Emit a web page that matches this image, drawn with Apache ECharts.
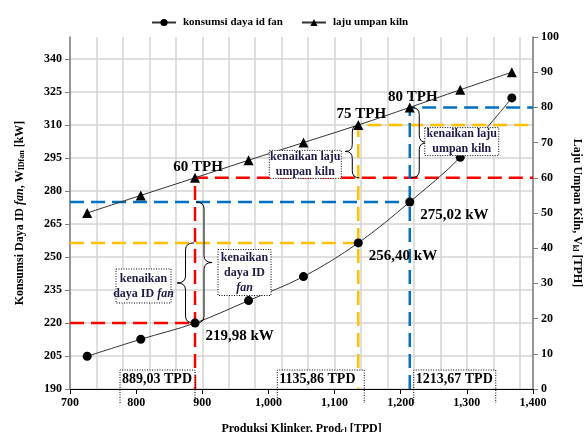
<!DOCTYPE html>
<html>
<head>
<meta charset="utf-8">
<script src="https://cdn.jsdelivr.net/npm/echarts@6/dist/echarts.min.js"></script>
<style>
  html, body { margin: 0; padding: 0; background: #fff; }
  #chart { width: 587px; height: 432px; }
</style>
</head>
<body>
<div id="chart"></div>
<script>
// Clinker production (TPD), ID fan power (kW) and kiln feed rate (TPH)
const clinkerTPD  = [726, 807, 889.03, 970, 1053, 1135.86, 1213.67, 1290, 1368];
const fanPowerKW  = [204.9, 212.6, 219.98, 230.2, 241.1, 256.40, 275.02, 295.3, 322.3];
const kilnFeedTPH = [50, 55, 60, 65, 70, 75, 80, 85, 90];

// Operating points highlighted with guide lines
const markedIdx   = [2, 5, 6];
const guideColors = ['#ff0000', '#ffc000', '#0070c0'];

// Axis ranges
const xRange = [700, 1400];
const kwRange = [190, 350];
const tphRange = [0, 100];

const seriesNames = ['konsumsi daya id fan', 'laju umpan kiln'];

const FONT = "'Liberation Serif', 'Times New Roman', serif";
const dec = v => v.toFixed(2).replace('.', ',');

const chart = echarts.init(document.getElementById('chart'), null, { renderer: 'canvas' });

const baseText = { fontFamily: FONT, fontWeight: 'bold', color: '#000' };
const subRich = {
  n: { fontFamily: FONT, fontWeight: 'bold', fontSize: 12, color: '#000' },
  i: { fontFamily: FONT, fontWeight: 'bold', fontStyle: 'italic', fontSize: 12, color: '#000' },
  s: { fontFamily: FONT, fontWeight: 'bold', fontSize: 8, color: '#000', verticalAlign: 'bottom', padding: [5, 0, 0, 0] }
};

// Guide lines: horizontal on the kW axis, vertical + horizontal on the TPH axis
const guideSeries = [];
markedIdx.forEach((idx, k) => {
  const x = clinkerTPD[idx];
  const style = { color: guideColors[k], width: 2.5, type: [14, 7] };
  guideSeries.push({
    type: 'line', xAxisIndex: 0, yAxisIndex: 0, symbol: 'none', silent: true, z: 1,
    lineStyle: style,
    data: [[xRange[0], fanPowerKW[idx]], [x, fanPowerKW[idx]]]
  });
  guideSeries.push({
    type: 'line', xAxisIndex: 0, yAxisIndex: 1, symbol: 'none', silent: true, z: 1,
    lineStyle: style,
    data: [[x, tphRange[0]], [x, kilnFeedTPH[idx]], [xRange[1], kilnFeedTPH[idx]]]
  });
});

const valueLabel = { fontFamily: FONT, fontWeight: 'bold', fontSize: 15, color: '#000' };

const powerData = clinkerTPD.map((x, i) => {
  const item = { value: [x, fanPowerKW[i]] };
  if (markedIdx.includes(i)) {
    item.label = { show: true, position: 'right', offset: [1, 13], formatter: dec(fanPowerKW[i]) + ' kW', ...valueLabel };
  }
  return item;
});
const feedData = clinkerTPD.map((x, i) => {
  const item = { value: [x, kilnFeedTPH[i]] };
  if (markedIdx.includes(i)) {
    item.label = { show: true, position: 'top', distance: 3, offset: [3, 5], formatter: kilnFeedTPH[i] + ' TPH', ...valueLabel };
  }
  return item;
});

// Split line colours for the kW axis: hide the line at the axis maximum
const kwTickCount = Math.floor((kwRange[1] - kwRange[0]) / 15) + 2;
const kwSplitColors = Array.from({ length: kwTickCount }, (_, i) => i === kwTickCount - 1 ? 'rgba(0,0,0,0)' : '#d4d4d4');

chart.setOption({
  animation: false,
  backgroundColor: '#fff',
  textStyle: { fontFamily: FONT },
  legend: {
    data: seriesNames,
    top: 12, left: 146,
    itemWidth: 24, itemHeight: 9, itemGap: 18,
    textStyle: { ...baseText, fontSize: 11, padding: [0, 0, 0, 2] }
  },
  grid: { left: 70, right: 54, top: 37, bottom: 43, containLabel: false, outerBoundsMode: 'none' },
  xAxis: [
    {
      type: 'value', min: xRange[0], max: xRange[1], interval: 100,
      name: '{n|Produksi Klinker, Prod}{s|cl}{n| [TPD]}',
      nameLocation: 'middle', nameGap: 33,
      nameTextStyle: { rich: subRich },
      axisLine: { show: true, onZero: false, lineStyle: { color: '#000', width: 1 } },
      axisTick: { show: true, length: 5, lineStyle: { color: '#000' } },
      axisLabel: { ...baseText, fontSize: 12, margin: 8, formatter: v => v.toLocaleString('en-US') },
      splitLine: { show: false }
    },
    {
      type: 'value', min: xRange[0], max: xRange[1], interval: 40, position: 'bottom',
      axisLine: { show: false }, axisTick: { show: false }, axisLabel: { show: false },
      splitLine: { show: true, lineStyle: { color: '#d4d4d4', width: 1.5 } }
    }
  ],
  yAxis: [
    {
      type: 'value', min: kwRange[0], max: kwRange[1], interval: 15, position: 'left',
      name: '{n|Konsumsi Daya ID }{i|fan}{n|, W}{s|IDfan}{n| [kW]}',
      nameLocation: 'middle', nameGap: 44, nameRotate: 90,
      nameTextStyle: { rich: subRich },
      axisLine: { show: true, lineStyle: { color: '#7f7f7f', width: 1.5 } },
      axisTick: { show: true, length: 5, lineStyle: { color: '#7f7f7f' } },
      axisLabel: { ...baseText, fontSize: 12, margin: 8, showMaxLabel: false },
      splitLine: { show: true, lineStyle: { color: kwSplitColors, width: 1.5 } }
    },
    {
      type: 'value', min: tphRange[0], max: tphRange[1], interval: 10, position: 'right',
      name: '{n|Laju Umpan Kiln, V}{s|kl}{n| [TPH]}',
      nameLocation: 'middle', nameGap: 38, nameRotate: -90,
      nameTextStyle: { rich: subRich },
      axisLine: { show: true, lineStyle: { color: '#7f7f7f', width: 1.5 } },
      axisTick: { show: true, length: 5, lineStyle: { color: '#7f7f7f' } },
      axisLabel: { ...baseText, fontSize: 12, margin: 8 },
      splitLine: { show: false }
    }
  ],
  series: [
    ...guideSeries,
    {
      name: seriesNames[0], type: 'line', xAxisIndex: 0, yAxisIndex: 0, z: 5,
      smooth: 0.35, symbol: 'circle', symbolSize: 9,
      itemStyle: { color: '#000' }, lineStyle: { color: '#333', width: 1 },
      data: powerData
    },
    {
      name: seriesNames[1], type: 'line', xAxisIndex: 0, yAxisIndex: 1, z: 5,
      smooth: 0.35, symbol: 'triangle', symbolSize: 10,
      itemStyle: { color: '#000' }, lineStyle: { color: '#333', width: 1 },
      data: feedData
    }
  ]
});

// ---- Annotations: braces, note boxes and TPD boxes ----
const kwPx  = (x, y) => chart.convertToPixel({ xAxisIndex: 0, yAxisIndex: 0 }, [x, y]);
const tphPx = (x, y) => chart.convertToPixel({ xAxisIndex: 0, yAxisIndex: 1 }, [x, y]);

const graphics = [];
const strokeStyle = { fill: null, stroke: '#000', lineWidth: 1 };

function curve(x1, y1, cx, cy, x2, y2) {
  graphics.push({ type: 'bezierCurve', z: 20, silent: true,
    shape: { x1, y1, x2, y2, cpx1: cx, cpy1: cy }, style: { ...strokeStyle } });
}
function seg(x1, y1, x2, y2) {
  graphics.push({ type: 'line', z: 20, silent: true,
    shape: { x1, y1, x2, y2 }, style: { ...strokeStyle } });
}

// Curly brace between two points on a vertical, opening towards xBase, tip at xBase + dir*depth
function addBrace(xBase, yA, yB, dir, depth) {
  const yTop = Math.min(yA, yB), yBot = Math.max(yA, yB);
  const xTip = xBase + dir * depth;
  const xm = (xBase + xTip) / 2;
  const yTip = (yTop + yBot) / 2;
  const r = Math.min(7, (yBot - yTop) / 5);
  curve(xBase, yTop, xm, yTop, xm, yTop + r);
  seg(xm, yTop + r, xm, yTip - r);
  curve(xm, yTip - r, xm, yTip, xTip, yTip);
  curve(xTip, yTip, xm, yTip, xm, yTip + r);
  seg(xm, yTip + r, xm, yBot - r);
  curve(xm, yBot - r, xm, yBot, xBase, yBot);
  return [xTip, yTip];
}

const noteRich = {
  n: { fontFamily: FONT, fontWeight: 'bold', fontSize: 12, fill: '#1b1b45', lineHeight: 15 },
  i: { fontFamily: FONT, fontWeight: 'bold', fontStyle: 'italic', fontSize: 12, fill: '#1b1b45', lineHeight: 15 }
};

function addNote(x, y, w, h, text) {
  graphics.push({
    type: 'rect', z: 20, silent: true,
    shape: { x, y, width: w, height: h },
    style: { fill: '#fff', stroke: '#000', lineWidth: 1, lineDash: [1, 1.5] }
  });
  graphics.push({
    type: 'text', z: 21, silent: true,
    x: x + w / 2, y: y + h / 2,
    style: { text, rich: noteRich, align: 'center', verticalAlign: 'middle' }
  });
}

const [iA, iB, iC] = markedIdx;

// Fan power rise from 60 TPH to 75 TPH
let p0 = kwPx(clinkerTPD[iA], fanPowerKW[iA]), p1 = kwPx(clinkerTPD[iA], fanPowerKW[iB]);
let tip = addBrace(p0[0] - 1, p0[1], p1[1], -1, 17);
addNote(tip[0] - 61, tip[1] - 14, 55, 34, '{n|kenaikan}\n{n|daya ID }{i|fan}');

// Fan power rise from 60 TPH to 80 TPH
p1 = kwPx(clinkerTPD[iA], fanPowerKW[iC]);
tip = addBrace(p0[0] + 1, p0[1], p1[1], 1, 16);
addNote(tip[0] + 6, tip[1] - 13, 53, 46, '{n|kenaikan}\n{n|daya ID}\n{i|fan}');

// Kiln feed rise from 60 TPH to 75 TPH
p0 = tphPx(clinkerTPD[iB], kilnFeedTPH[iA]); p1 = tphPx(clinkerTPD[iB], kilnFeedTPH[iB]);
tip = addBrace(p0[0] + 1, p0[1], p1[1], -1, 14);
addNote(tip[0] - 76, tip[1] - 1, 72, 28, '{n|kenaikan laju}\n{n|umpan kiln}');

// Kiln feed rise from 60 TPH to 80 TPH
p0 = tphPx(clinkerTPD[iC], kilnFeedTPH[iA]); p1 = tphPx(clinkerTPD[iC], kilnFeedTPH[iC]);
tip = addBrace(p0[0] + 1, p0[1], p1[1], 1, 17);
addNote(tip[0] - 3, tip[1] - 15, 74, 28, '{n|kenaikan laju}\n{n|umpan kiln}');

// TPD boxes at the foot of each vertical guide
const tpdBoxes = [
  { idx: iA, side: -1, gap: 0, w: 75 },
  { idx: iB, side: -1, gap: 6, w: 87 },
  { idx: iC, side: 1,  gap: 4, w: 82 }
];
tpdBoxes.forEach(b => {
  const p = kwPx(clinkerTPD[b.idx], kwRange[0]);
  const left = b.side < 0 ? p[0] + b.gap - b.w : p[0] + b.gap;
  const top = p[1] - 19, bottom = p[1] + 14;
  graphics.push({
    type: 'rect', z: 19, silent: true,
    shape: { x: left + 0.5, y: top + 0.5, width: b.w - 1, height: 17 },
    style: { fill: '#fff' }
  });
  graphics.push({
    type: 'polyline', z: 20, silent: true,
    shape: { points: [[left, bottom], [left, top], [left + b.w, top], [left + b.w, bottom]] },
    style: { fill: null, stroke: '#000', lineWidth: 1, lineDash: [1, 1.5] }
  });
  graphics.push({
    type: 'text', z: 21, silent: true,
    x: left + 2, y: top + 9,
    style: {
      text: dec(clinkerTPD[b.idx]) + ' TPD',
      font: `bold 14px ${FONT}`, fill: '#000',
      align: 'left', verticalAlign: 'middle'
    }
  });
});

chart.setOption({ graphic: { elements: graphics } });
</script>
</body>
</html>
